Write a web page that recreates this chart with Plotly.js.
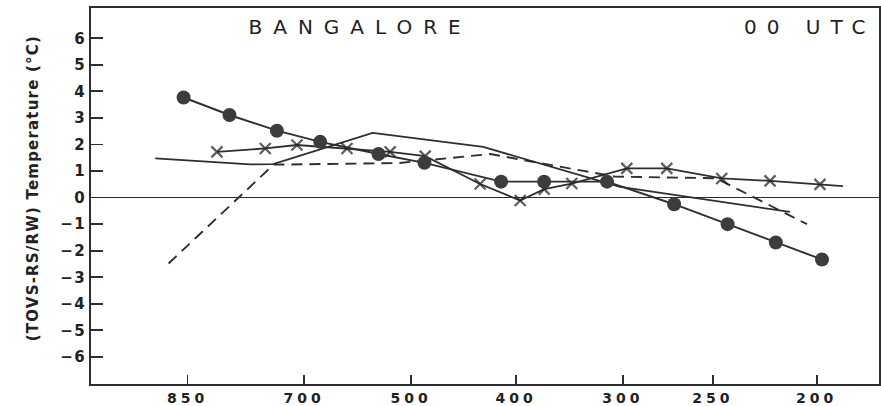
<!DOCTYPE html>
<html>
<head>
<meta charset="utf-8">
<script src="https://cdn.plot.ly/plotly-3.0.1.min.js"></script>
<style>
  html, body { margin: 0; padding: 0; background: #ffffff; }
  #chart { width: 881px; height: 406px; }
  .xtick text { letter-spacing: 4px; }
  .ytick text { letter-spacing: 1.5px; }
</style>
</head>
<body>
<div id="chart"></div>
<script>
// Pressure-level tick labels (hPa) and their positions on the level axis
const tickLabels = ['850', '700', '500', '400', '300', '250', '200'];
const tickPos = [0, 1.112, 2.133, 3.133, 4.151, 5.009, 6.0];
const yTicks = [-6, -5, -4, -3, -2, -1, 0, 1, 2, 3, 4, 5, 6];

// Series: TOVS - RS/RW temperature difference (°C) along level axis
const circlesX = [-0.038, 0.40, 0.852, 1.265, 1.821, 2.259, 2.99, 3.40, 4.00, 4.64, 5.15, 5.61, 6.05];
const circlesY = [3.77, 3.11, 2.52, 2.10, 1.64, 1.31, 0.60, 0.60, 0.60, -0.25, -1.00, -1.69, -2.33];

const crossesX = [0.280, 0.741, 1.043, 1.520, 1.932, 2.266, 2.790, 3.172, 3.401, 3.664, 4.189, 4.570, 5.094, 5.555, 6.031, 6.25];
const crossesY = [1.72, 1.85, 1.98, 1.85, 1.72, 1.56, 0.51, -0.11, 0.32, 0.53, 1.10, 1.10, 0.72, 0.63, 0.50, 0.43];

const solidX = [-0.308, 0.598, 0.817, 1.765, 2.819, 4.125, 5.745];
const solidY = [1.48, 1.25, 1.26, 2.44, 1.91, 0.40, -0.54];

const dashedX = [-0.181, 0.820, 2.009, 2.886, 4.077, 5.040, 5.907];
const dashedY = [-2.48, 1.24, 1.30, 1.64, 0.79, 0.73, -1.00];

const ink = '#2e2e2e';

const traces = [
  {
    x: solidX, y: solidY, type: 'scatter', mode: 'lines',
    line: { color: ink, width: 1.8 }, hoverinfo: 'skip'
  },
  {
    x: dashedX, y: dashedY, type: 'scatter', mode: 'lines',
    line: { color: ink, width: 1.9, dash: '11px,7px' }, hoverinfo: 'skip'
  },
  {
    x: crossesX, y: crossesY, type: 'scatter', mode: 'lines+markers',
    line: { color: ink, width: 1.8 },
    marker: {
      symbol: 'x-thin', color: '#1e1e1e',
      size: crossesX.map((v, i) => i === crossesX.length - 1 ? 0 : 11),
      line: { color: '#1e1e1e', width: 2.3 }
    },
    hoverinfo: 'skip'
  },
  {
    x: circlesX, y: circlesY, type: 'scatter', mode: 'lines+markers',
    line: { color: ink, width: 1.9 },
    marker: { symbol: 'circle', size: 14, color: '#3c3c3c' },
    hoverinfo: 'skip'
  }
];

const layout = {
  width: 881, height: 406,
  margin: { l: 91, r: 2, t: 8, b: 22 },
  paper_bgcolor: '#ffffff', plot_bgcolor: '#ffffff',
  showlegend: false,
  font: { family: 'DejaVu Sans, sans-serif', color: ink },
  xaxis: {
    range: [-0.921, 6.594],
    tickmode: 'array', tickvals: tickPos, ticktext: tickLabels,
    ticks: 'inside', ticklen: 9, tickwidth: 1.8, tickcolor: ink,
    showline: true, linecolor: ink, linewidth: 1.8, mirror: true,
    showgrid: false, zeroline: false,
    tickfont: { family: 'DejaVu Sans, sans-serif', size: 14, color: '#222222', weight: 700 },
    ticklabelstandoff: 0
  },
  yaxis: {
    range: [-7.02, 7.14],
    tickmode: 'array', tickvals: yTicks,
    ticktext: yTicks.map(v => v < 0 ? '\u2212' + Math.abs(v) : String(v)),
    ticks: 'inside', ticklen: 12, tickwidth: 1.8, tickcolor: ink,
    showline: true, linecolor: ink, linewidth: 1.8, mirror: true,
    showgrid: false,
    zeroline: true, zerolinecolor: ink, zerolinewidth: 1.6,
    tickfont: { family: 'DejaVu Sans, sans-serif', size: 15, color: '#222222', weight: 700 },
    ticklabelstandoff: 0
  },
  annotations: [
    {
      text: 'BANGALORE', xref: 'paper', yref: 'paper',
      x: 0.341, y: 0.949, xanchor: 'center', yanchor: 'middle', showarrow: false,
      font: { family: 'DejaVu Sans, sans-serif', size: 20, color: '#222222' }
    },
    {
      text: '00 UTC', xref: 'paper', yref: 'paper',
      x: 0.912, y: 0.949, xanchor: 'center', yanchor: 'middle', showarrow: false,
      font: { family: 'DejaVu Sans, sans-serif', size: 20, color: '#222222' }
    },
    {
      text: '(TOVS-RS/RW) Temperature (°C)', xref: 'paper', yref: 'paper',
      x: -0.074, y: 0.521, xanchor: 'center', yanchor: 'middle', showarrow: false,
      textangle: -90,
      font: { family: 'DejaVu Sans, sans-serif', size: 15, color: '#222222', weight: 600 }
    }
  ]
};

Plotly.newPlot('chart', traces, layout, { displayModeBar: false, staticPlot: true }).then(function () {
  const ann = document.querySelectorAll('.annotation-text');
  const spacing = ['11px', '10px', '1.2px'];
  ann.forEach(function (el, i) { el.style.letterSpacing = spacing[i] || '0px'; });
});
</script>
</body>
</html>
